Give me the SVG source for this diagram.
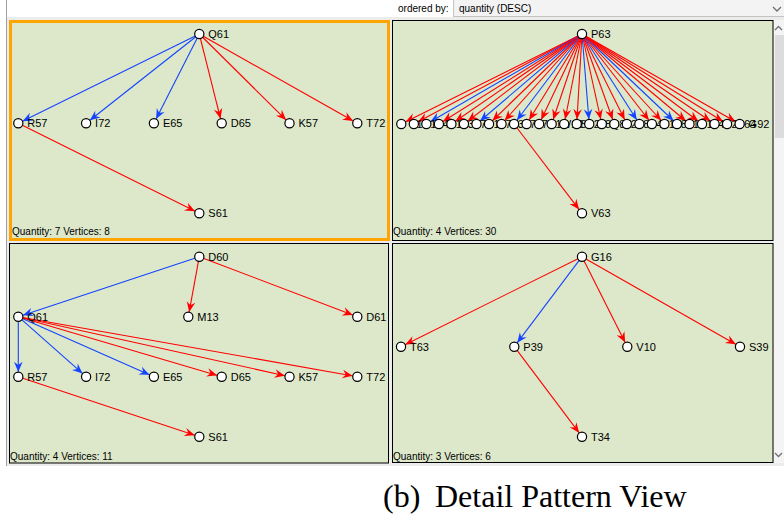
<svg xmlns="http://www.w3.org/2000/svg" width="784" height="516" viewBox="0 0 784 516">
<style>
.e{stroke-width:1.1;fill:none}
.r{stroke:#ff0000;marker-end:url(#ar)}
.b{stroke:#1444ff;marker-end:url(#ab)}
.n circle{fill:#fff;stroke:#000;stroke-width:1.2}
.n text{font-family:"Liberation Sans",Arial,sans-serif;font-size:11px;fill:#000}
.q{font-family:"Liberation Sans",Arial,sans-serif;font-size:10px;fill:#000}
.panel{fill:#dde8ca;stroke:#000;stroke-width:1}
.chev{fill:none;stroke:#707070;stroke-width:1.3}
</style>
<defs>
<marker id="ar" markerUnits="userSpaceOnUse" viewBox="-16 -5 17 10" markerWidth="17" markerHeight="10" refX="0" refY="0" orient="auto" overflow="visible"><path d="M-4.8,0 L-15,-4.3 L-11.6,0 L-15,4.3 Z" fill="#ff0000"/></marker>
<marker id="ab" markerUnits="userSpaceOnUse" viewBox="-16 -5 17 10" markerWidth="17" markerHeight="10" refX="0" refY="0" orient="auto" overflow="visible"><path d="M-4.8,0 L-15,-4.3 L-11.6,0 L-15,4.3 Z" fill="#1444ff"/></marker>
</defs>
<rect x="0" y="0" width="784" height="516" fill="#fff"/>
<g id="toolbar">
<rect x="7" y="17" width="777" height="449" fill="#ececec"/>
<line x1="6.5" y1="0" x2="6.5" y2="466" stroke="#a0a0a0" stroke-width="1"/>
<text class="q" x="398" y="12">ordered by:</text>
<rect x="453.5" y="-1" width="331" height="17.5" fill="#f3f3f3" stroke="#c4c4c4" stroke-width="1"/>
<text class="q" x="459" y="12">quantity (DESC)</text>
<polyline class="chev" points="773,7 777,11 781,7"/>
<rect x="774" y="20" width="10" height="443" fill="#f4f4f4"/>
<rect x="775" y="35" width="9" height="103" fill="#dcdcdc"/>
<polyline class="chev" points="775,30 778.5,26.5 782,30"/>
<polyline class="chev" points="775,453 778.5,456.5 782,453"/>
</g>
<g id="panels">
<rect x="10.5" y="21.5" width="378" height="218" fill="#dde8ca" stroke="#ffa500" stroke-width="3"/>
<rect class="panel" x="392.5" y="20.5" width="380.5" height="220"/>
<rect class="panel" x="9.5" y="243.5" width="379" height="219.5"/>
<rect class="panel" x="392.5" y="243.5" width="380.5" height="219"/>
<text class="q" x="12" y="235">Quantity: 7 Vertices: 8</text>
<text class="q" x="393" y="235">Quantity: 4 Vertices: 30</text>
<text class="q" x="10" y="460">Quantity: 4 Vertices: 11</text>
<text class="q" x="393" y="460">Quantity: 3 Vertices: 6</text>
</g>
<g id="connectors">
<line class="e b" x1="199.3" y1="34" x2="18.3" y2="123.3"/>
<line class="e b" x1="199.3" y1="34" x2="86.1" y2="123.3"/>
<line class="e b" x1="199.3" y1="34" x2="153.9" y2="123.3"/>
<line class="e r" x1="199.3" y1="34" x2="221.7" y2="123.3"/>
<line class="e r" x1="199.3" y1="34" x2="289.5" y2="123.3"/>
<line class="e r" x1="199.3" y1="34" x2="357.3" y2="123.3"/>
<line class="e r" x1="18.3" y1="123.3" x2="199.3" y2="213.3"/>

<line class="e r" x1="582" y1="34" x2="401.3" y2="124"/>
<line class="e r" x1="582" y1="34" x2="413.83" y2="124"/>
<line class="e b" x1="582" y1="34" x2="426.36" y2="124"/>
<line class="e r" x1="582" y1="34" x2="438.89" y2="124"/>
<line class="e r" x1="582" y1="34" x2="451.42" y2="124"/>
<line class="e r" x1="582" y1="34" x2="463.95" y2="124"/>
<line class="e b" x1="582" y1="34" x2="476.48" y2="124"/>
<line class="e r" x1="582" y1="34" x2="489.01" y2="124"/>
<line class="e r" x1="582" y1="34" x2="501.54" y2="124"/>
<line class="e b" x1="582" y1="34" x2="514.07" y2="124"/>
<line class="e r" x1="582" y1="34" x2="526.6" y2="124"/>
<line class="e r" x1="582" y1="34" x2="539.13" y2="124"/>
<line class="e r" x1="582" y1="34" x2="551.66" y2="124"/>
<line class="e r" x1="582" y1="34" x2="564.19" y2="124"/>
<line class="e r" x1="582" y1="34" x2="576.72" y2="124"/>
<line class="e b" x1="582" y1="34" x2="589.25" y2="124"/>
<line class="e r" x1="582" y1="34" x2="601.78" y2="124"/>
<line class="e r" x1="582" y1="34" x2="614.31" y2="124"/>
<line class="e r" x1="582" y1="34" x2="626.84" y2="124"/>
<line class="e b" x1="582" y1="34" x2="639.37" y2="124"/>
<line class="e r" x1="582" y1="34" x2="651.9" y2="124"/>
<line class="e r" x1="582" y1="34" x2="664.43" y2="124"/>
<line class="e b" x1="582" y1="34" x2="676.96" y2="124"/>
<line class="e r" x1="582" y1="34" x2="689.49" y2="124"/>
<line class="e r" x1="582" y1="34" x2="702.02" y2="124"/>
<line class="e r" x1="582" y1="34" x2="714.55" y2="124"/>
<line class="e r" x1="582" y1="34" x2="727.08" y2="124"/>
<line class="e r" x1="582" y1="34" x2="739.61" y2="124"/>
<line class="e r" x1="514.07" y1="124" x2="582" y2="213.3"/>

<line class="e b" x1="199.3" y1="256.7" x2="18.3" y2="316.7"/>
<line class="e r" x1="199.3" y1="256.7" x2="188.3" y2="316.7"/>
<line class="e r" x1="199.3" y1="256.7" x2="357.3" y2="316.7"/>
<line class="e b" x1="18.3" y1="316.7" x2="18.3" y2="376.7"/>
<line class="e b" x1="18.3" y1="316.7" x2="86.1" y2="376.7"/>
<line class="e b" x1="18.3" y1="316.7" x2="153.9" y2="376.7"/>
<line class="e r" x1="18.3" y1="316.7" x2="221.7" y2="376.7"/>
<line class="e r" x1="18.3" y1="316.7" x2="289.5" y2="376.7"/>
<line class="e r" x1="18.3" y1="316.7" x2="357.3" y2="376.7"/>
<line class="e r" x1="18.3" y1="376.7" x2="199.3" y2="436.7"/>

<line class="e r" x1="582" y1="256.7" x2="401" y2="346.7"/>
<line class="e b" x1="582" y1="256.7" x2="514.3" y2="346.7"/>
<line class="e r" x1="582" y1="256.7" x2="627.3" y2="346.7"/>
<line class="e r" x1="582" y1="256.7" x2="740" y2="346.7"/>
<line class="e r" x1="514.3" y1="346.7" x2="582" y2="436.7"/>
</g>

<g id="tl-Q61" class="n"><circle cx="199.3" cy="34" r="4.6"/><text x="208.3" y="38">Q61</text></g>
<g id="tl-R57" class="n"><circle cx="18.3" cy="123.3" r="4.6"/><text x="27.3" y="127.3">R57</text></g>
<g id="tl-I72" class="n"><circle cx="86.1" cy="123.3" r="4.6"/><text x="95.1" y="127.3">I72</text></g>
<g id="tl-E65" class="n"><circle cx="153.9" cy="123.3" r="4.6"/><text x="162.9" y="127.3">E65</text></g>
<g id="tl-D65" class="n"><circle cx="221.7" cy="123.3" r="4.6"/><text x="230.7" y="127.3">D65</text></g>
<g id="tl-K57" class="n"><circle cx="289.5" cy="123.3" r="4.6"/><text x="298.5" y="127.3">K57</text></g>
<g id="tl-T72" class="n"><circle cx="357.3" cy="123.3" r="4.6"/><text x="366.3" y="127.3">T72</text></g>
<g id="tl-S61" class="n"><circle cx="199.3" cy="213.3" r="4.6"/><text x="208.3" y="217.3">S61</text></g>

<g id="tr-P63" class="n"><circle cx="582" cy="34" r="4.6"/><text x="591" y="38">P63</text></g>
<g id="tr-V63" class="n"><circle cx="582" cy="213.3" r="4.6"/><text x="591" y="217.3">V63</text></g>
<g id="tr-n0" class="n"><circle cx="401.3" cy="124" r="4.6"/><text x="410.3" y="128">L10</text></g>
<g id="tr-n1" class="n"><circle cx="413.83" cy="124" r="4.6"/><text x="422.83" y="128">E17</text></g>
<g id="tr-n2" class="n"><circle cx="426.36" cy="124" r="4.6"/><text x="435.36" y="128">S40</text></g>
<g id="tr-n3" class="n"><circle cx="438.89" cy="124" r="4.6"/><text x="447.89" y="128">N13</text></g>
<g id="tr-n4" class="n"><circle cx="451.42" cy="124" r="4.6"/><text x="460.42" y="128">A37</text></g>
<g id="tr-n5" class="n"><circle cx="463.95" cy="124" r="4.6"/><text x="472.95" y="128">Y71</text></g>
<g id="tr-n6" class="n"><circle cx="476.48" cy="124" r="4.6"/><text x="485.48" y="128">H16</text></g>
<g id="tr-n7" class="n"><circle cx="489.01" cy="124" r="4.6"/><text x="498.01" y="128">E74</text></g>
<g id="tr-n8" class="n"><circle cx="501.54" cy="124" r="4.6"/><text x="510.54" y="128">K33</text></g>
<g id="tr-n9" class="n"><circle cx="514.07" cy="124" r="4.6"/><text x="523.07" y="128">F70</text></g>
<g id="tr-n10" class="n"><circle cx="526.6" cy="124" r="4.6"/><text x="535.6" y="128">L75</text></g>
<g id="tr-n11" class="n"><circle cx="539.13" cy="124" r="4.6"/><text x="548.13" y="128">A18</text></g>
<g id="tr-n12" class="n"><circle cx="551.66" cy="124" r="4.6"/><text x="560.66" y="128">W12</text></g>
<g id="tr-n13" class="n"><circle cx="564.19" cy="124" r="4.6"/><text x="573.19" y="128">S83</text></g>
<g id="tr-n14" class="n"><circle cx="576.72" cy="124" r="4.6"/><text x="585.72" y="128">N25</text></g>
<g id="tr-n15" class="n"><circle cx="589.25" cy="124" r="4.6"/><text x="598.25" y="128">T81</text></g>
<g id="tr-n16" class="n"><circle cx="601.78" cy="124" r="4.6"/><text x="610.78" y="128">Q86</text></g>
<g id="tr-n17" class="n"><circle cx="614.31" cy="124" r="4.6"/><text x="623.31" y="128">Y29</text></g>
<g id="tr-n18" class="n"><circle cx="626.84" cy="124" r="4.6"/><text x="635.84" y="128">K80</text></g>
<g id="tr-n19" class="n"><circle cx="639.37" cy="124" r="4.6"/><text x="648.37" y="128">R44</text></g>
<g id="tr-n20" class="n"><circle cx="651.9" cy="124" r="4.6"/><text x="660.9" y="128">H19</text></g>
<g id="tr-n21" class="n"><circle cx="664.43" cy="124" r="4.6"/><text x="673.43" y="128">E81</text></g>
<g id="tr-n22" class="n"><circle cx="676.96" cy="124" r="4.6"/><text x="685.96" y="128">T14</text></g>
<g id="tr-n23" class="n"><circle cx="689.49" cy="124" r="4.6"/><text x="698.49" y="128">N15</text></g>
<g id="tr-n24" class="n"><circle cx="702.02" cy="124" r="4.6"/><text x="711.02" y="128">S45</text></g>
<g id="tr-n25" class="n"><circle cx="714.55" cy="124" r="4.6"/><text x="723.55" y="128">D23</text></g>
<g id="tr-n26" class="n"><circle cx="727.08" cy="124" r="4.6"/><text x="736.08" y="128">D64</text></g>
<g id="tr-n27" class="n"><circle cx="739.61" cy="124" r="4.6"/><text x="748.61" y="128">G92</text></g>

<g id="bl-D60" class="n"><circle cx="199.3" cy="256.7" r="4.6"/><text x="208.3" y="260.7">D60</text></g>
<g id="bl-Q61" class="n"><circle cx="18.3" cy="316.7" r="4.6"/><text x="27.3" y="320.7">Q61</text></g>
<g id="bl-M13" class="n"><circle cx="188.3" cy="316.7" r="4.6"/><text x="197.3" y="320.7">M13</text></g>
<g id="bl-D61" class="n"><circle cx="357.3" cy="316.7" r="4.6"/><text x="366.3" y="320.7">D61</text></g>
<g id="bl-R57" class="n"><circle cx="18.3" cy="376.7" r="4.6"/><text x="27.3" y="380.7">R57</text></g>
<g id="bl-I72" class="n"><circle cx="86.1" cy="376.7" r="4.6"/><text x="95.1" y="380.7">I72</text></g>
<g id="bl-E65" class="n"><circle cx="153.9" cy="376.7" r="4.6"/><text x="162.9" y="380.7">E65</text></g>
<g id="bl-D65" class="n"><circle cx="221.7" cy="376.7" r="4.6"/><text x="230.7" y="380.7">D65</text></g>
<g id="bl-K57" class="n"><circle cx="289.5" cy="376.7" r="4.6"/><text x="298.5" y="380.7">K57</text></g>
<g id="bl-T72" class="n"><circle cx="357.3" cy="376.7" r="4.6"/><text x="366.3" y="380.7">T72</text></g>
<g id="bl-S61" class="n"><circle cx="199.3" cy="436.7" r="4.6"/><text x="208.3" y="440.7">S61</text></g>

<g id="br-G16" class="n"><circle cx="582" cy="256.7" r="4.6"/><text x="591" y="260.7">G16</text></g>
<g id="br-T63" class="n"><circle cx="401" cy="346.7" r="4.6"/><text x="410" y="350.7">T63</text></g>
<g id="br-P39" class="n"><circle cx="514.3" cy="346.7" r="4.6"/><text x="523.3" y="350.7">P39</text></g>
<g id="br-V10" class="n"><circle cx="627.3" cy="346.7" r="4.6"/><text x="636.3" y="350.7">V10</text></g>
<g id="br-S39" class="n"><circle cx="740" cy="346.7" r="4.6"/><text x="749" y="350.7">S39</text></g>
<g id="br-T34" class="n"><circle cx="582" cy="436.7" r="4.6"/><text x="591" y="440.7">T34</text></g>

<text x="383" y="507" font-family="'Liberation Serif','Times New Roman',serif" font-size="32" fill="#000">(b)<tspan x="435">Detail Pattern View</tspan></text>
</svg>
